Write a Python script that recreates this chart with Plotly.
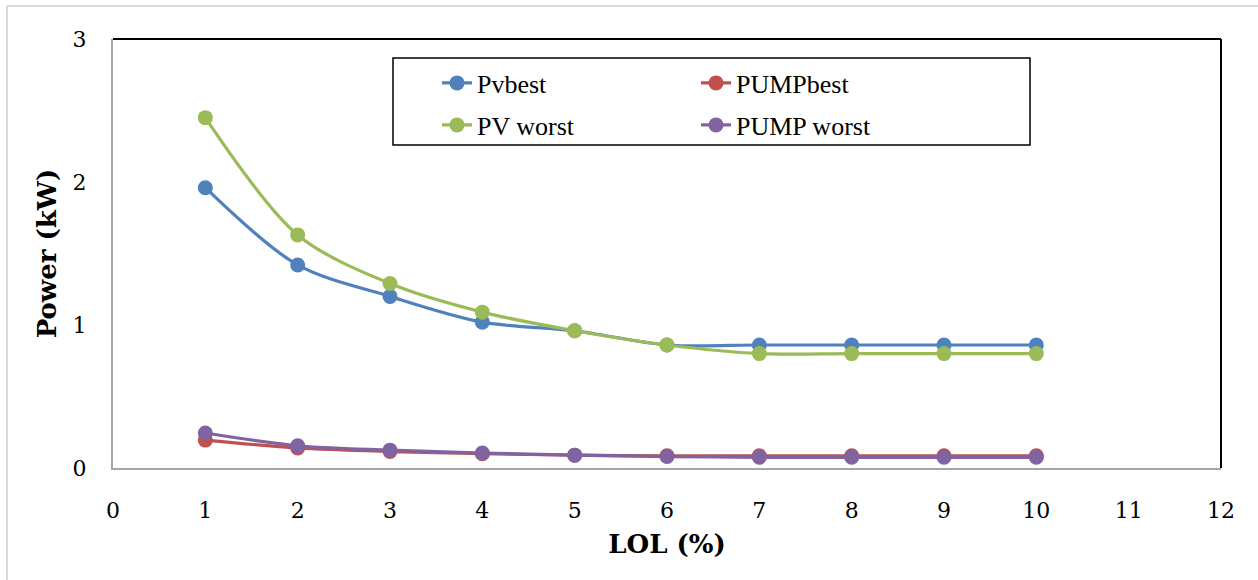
import plotly.graph_objects as go

lol = [1, 2, 3, 4, 5, 6, 7, 8, 9, 10]
pv_best = [1.96, 1.42, 1.20, 1.02, 0.96, 0.86, 0.86, 0.86, 0.86, 0.86]
pump_best = [0.195, 0.14, 0.115, 0.10, 0.09, 0.085, 0.085, 0.085, 0.085, 0.085]
pv_worst = [2.45, 1.63, 1.29, 1.09, 0.96, 0.86, 0.80, 0.80, 0.80, 0.80]
pump_worst = [0.245, 0.155, 0.125, 0.105, 0.09, 0.08, 0.075, 0.075, 0.075, 0.075]

names = ["Pvbest", "PUMPbest", "PV worst", "PUMP worst"]
series = [pv_best, pump_best, pv_worst, pump_worst]
colors = ["#4F81BD", "#C0504D", "#9BBB59", "#8064A2"]
legends = ["legend", "legend", "legend2", "legend2"]

fig = go.Figure()
for n, s, c, lg in zip(names, series, colors, legends):
    fig.add_trace(go.Scatter(
        x=lol, y=s, name=n, mode="lines+markers",
        line=dict(color=c, width=3.2, shape="spline", smoothing=0.9),
        marker=dict(color=c, size=15),
        legend=lg,
    ))

L, R, T, B = 113, 37, 39, 112
W, H = 1258, 580
pw, ph = W - L - R, H - T - B

def px(x):
    return (x - L) / pw

def py(y):
    return (H - B - y) / ph

shapes = [
    dict(type="line", xref="paper", yref="paper", x0=0, x1=1, y0=1, y1=1,
         line=dict(color="black", width=2)),
    dict(type="line", xref="paper", yref="paper", x0=1, x1=1, y0=0, y1=1,
         line=dict(color="black", width=2)),
    dict(type="rect", xref="paper", yref="paper",
         x0=px(393), x1=px(1030), y0=py(145), y1=py(58),
         line=dict(color="black", width=1.5)),
    dict(type="line", xref="paper", yref="paper", x0=px(7), x1=px(7),
         y0=py(580), y1=py(6), line=dict(color="#D9D9D9", width=2)),
    dict(type="line", xref="paper", yref="paper", x0=px(7), x1=px(1258),
         y0=py(6), y1=py(6), line=dict(color="#D9D9D9", width=2)),
]

legend_font = dict(family="Liberation Serif", size=26, color="black")

def legend_cfg(yc):
    return dict(orientation="h", entrywidth=214, entrywidthmode="pixels",
                font=legend_font,
                bgcolor="rgba(0,0,0,0)", borderwidth=0,
                xanchor="left", yanchor="middle", itemwidth=30,
                x=px(437), y=py(yc))

fig.update_layout(
    width=W, height=H,
    margin=dict(l=L, r=R, t=T, b=B),
    paper_bgcolor="white", plot_bgcolor="white",
    font=dict(family="Liberation Serif", color="black"),
    showlegend=True,
    legend=legend_cfg(83),
    legend2=legend_cfg(125),
    shapes=shapes,
    xaxis=dict(
        range=[0, 12], dtick=1, tick0=0, showgrid=False, zeroline=False,
        showline=True, linecolor="#A6A6A6", linewidth=2, ticks="",
        ticklabelstandoff=22,
        tickfont=dict(family="DejaVu Serif", size=22, color="black"),
        title=dict(text="<b>LOL (%)</b>", standoff=12,
                   font=dict(family="DejaVu Serif", size=26, color="black")),
    ),
    yaxis=dict(
        range=[0, 3], dtick=1, tick0=0, showgrid=False, zeroline=False,
        showline=True, linecolor="#A6A6A6", linewidth=2, ticks="",
        ticklabelstandoff=20,
        tickfont=dict(family="DejaVu Serif", size=22, color="black"),
        title=dict(text="<b>Power (kW)</b>", standoff=8,
                   font=dict(family="DejaVu Serif", size=26, color="black")),
    ),
)

fig.write_html("out.html")
